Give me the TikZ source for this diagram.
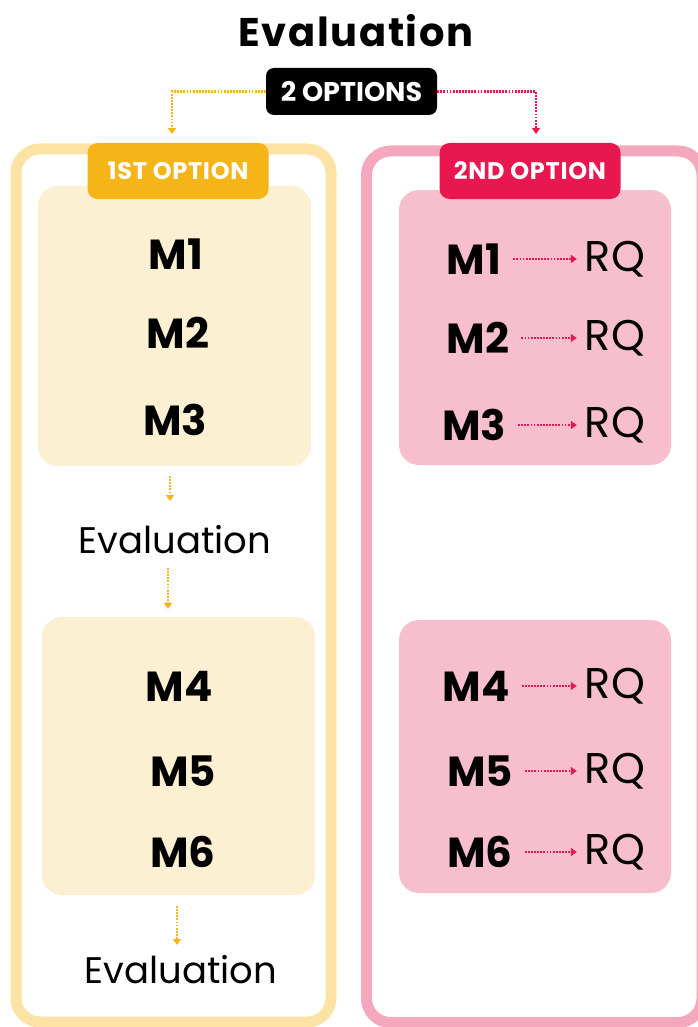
\documentclass[tikz,border=0pt]{standalone}
\usepackage{fontspec}
\setmainfont{Poppins}
\newfontfamily\titlefont[LetterSpace=4]{Poppins}
\newfontfamily\tagfont[LetterSpace=3]{Poppins}
\usetikzlibrary{arrows.meta,calc}
\definecolor{orng}{HTML}{F5B417}
\definecolor{orngline}{HTML}{FCE2A5}
\definecolor{cream}{HTML}{FCF0D3}
\definecolor{pnk}{HTML}{E8174F}
\definecolor{pnkline}{HTML}{F4A7BD}
\definecolor{pnkfill}{HTML}{F7BECE}
\tikzset{
  outerbox/.style={line width=11pt, rounded corners=24pt},
  innerbox/.style={rounded corners=20pt, inner sep=0pt},
  tagbox/.style={rounded corners=10pt, inner sep=0pt, minimum width=181pt, minimum height=56pt, text=white, font=\tagfont\fontsize{24}{27}\selectfont\bfseries},
  mtext/.style={inner sep=0pt, font=\fontsize{42}{48}\selectfont\bfseries},
  rqtext/.style={inner sep=0pt, font=\fontsize{43}{48}\selectfont},
  evaltext/.style={inner sep=0pt, font=\fontsize{37}{42}\selectfont},
  dotarrow/.style={line width=2.4pt, dash pattern=on 1.8pt off 1.3pt, -{Triangle[width=8pt,length=6pt]}}
}
\begin{document}
\begin{tikzpicture}[x=1pt,y=-1pt]
\useasboundingbox (0,0) rectangle (698,1027);
% title
\node[inner sep=0pt, font=\titlefont\fontsize{40}{46}\selectfont\bfseries] (title) at (356,31) {Evaluation};
% 2 options
\node[fill=black, rounded corners=8pt, minimum width=171pt, minimum height=47pt, inner sep=0pt, text=white, font=\fontsize{27}{30}\selectfont\bfseries] (opt) at (351.5,91.5) {2 OPTIONS};
% outer boxes
\draw[outerbox, draw=orngline] (16,149) rectangle (331,1022);
\draw[outerbox, draw=pnkline] (366.5,151) rectangle (702,1022.5);
% inner boxes
\node[innerbox, fill=cream, minimum width=273pt, minimum height=280pt] (lb1) at (174.5,326) {};
\node[innerbox, fill=cream, minimum width=273pt, minimum height=278pt] (lb2) at (178.5,756) {};
\node[innerbox, fill=pnkfill, minimum width=272pt, minimum height=275pt] (rb1) at (535,327.5) {};
\node[innerbox, fill=pnkfill, minimum width=272pt, minimum height=273pt] (rb2) at (535,756.5) {};
% tags
\node[tagbox, fill=orng] (t1) at (178,171) {1ST OPTION};
\node[tagbox, fill=pnk] (t2) at (530,171) {2ND OPTION};
% top connectors
\coordinate (c1) at (172,134);
\coordinate (c2) at (536,134);
\draw[dotarrow, draw=orng] (opt.west) -| (c1);
\draw[dotarrow, draw=pnk] (opt.east) -| (c2);
% left column
\node[mtext] (lm1) at (176,254) {M1};
\node[mtext] (lm2) at (178,333) {M2};
\node[mtext] (lm3) at (175,420) {M3};
\node[evaltext] (le1) at (175,540) {Evaluation};
\node[mtext] (lm4) at (179,686) {M4};
\node[mtext] (lm5) at (183,771) {M5};
\node[mtext] (lm6) at (183,852) {M6};
\node[evaltext] (le2) at (181,970) {Evaluation};
\coordinate (a1s) at (170,476); \coordinate (a1e) at (170,501);
\coordinate (a2s) at (168,568); \coordinate (a2e) at (168,609);
\coordinate (a3s) at (177,906); \coordinate (a3e) at (177,945);
\draw[dotarrow, draw=orng] (a1s) -- (a1e);
\draw[dotarrow, draw=orng] (a2s) -- (a2e);
\draw[dotarrow, draw=orng] (a3s) -- (a3e);
% right column
\foreach \n/\mx/\y in {1/474/259, 2/478/338, 3/474/425, 4/476/686, 5/480/771, 6/480/852}{
  \node[mtext] (rm\n) at (\mx,\y) {M\n};
  \node[rqtext] (rq\n) at (615,\y) {RQ};
  \draw[dotarrow, draw=pnk, line width=2pt] ($(rm\n.east)+(12,0)$) -- ($(rq\n.west)+(-8,0)$);
}
\end{tikzpicture}
\end{document}
